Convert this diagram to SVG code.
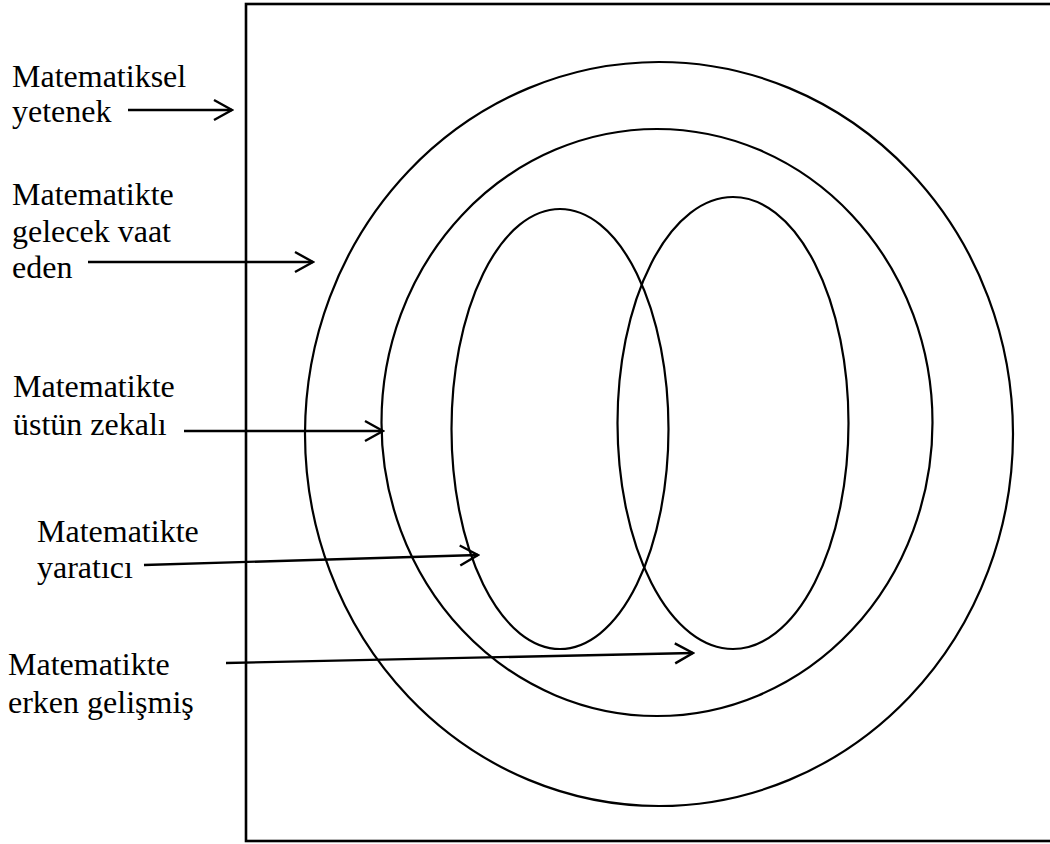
<svg xmlns="http://www.w3.org/2000/svg" width="1050" height="844" viewBox="0 0 1050 844">
<style>
.shape{fill:none;stroke:#000;stroke-width:2.2}
.frame{fill:none;stroke:#000;stroke-width:2.6}
.conn{fill:none;stroke:#000;stroke-width:2.4}
text{font-family:"Liberation Serif","Times New Roman",serif;font-size:32px;fill:#000}
</style>
<defs>
<marker id="arr" markerUnits="userSpaceOnUse" viewBox="0 0 22 24" refX="20" refY="12" markerWidth="22" markerHeight="24" orient="auto">
<path d="M2,2 L20,12 L2,22" fill="none" stroke="#000" stroke-width="2.4"/>
</marker>
</defs>
<rect width="1050" height="844" fill="#fff"/>
<g id="frame"><rect class="frame" x="246" y="4" width="840" height="837"/></g>
<g id="outer-circle"><ellipse class="shape" cx="659" cy="434" rx="354" ry="372"/></g>
<g id="middle-circle"><ellipse class="shape" cx="657" cy="422.5" rx="275.5" ry="293.5"/></g>
<g id="left-ellipse"><ellipse class="shape" cx="560" cy="429" rx="108.5" ry="220"/></g>
<g id="right-ellipse"><ellipse class="shape" cx="733" cy="423" rx="115.5" ry="226"/></g>
<g id="labels">
<text x="12" y="87">Matematiksel</text>
<text x="12" y="122">yetenek</text>
<text x="12" y="205">Matematikte</text>
<text x="12" y="242">gelecek vaat</text>
<text x="12" y="278">eden</text>
<text x="13" y="397">Matematikte</text>
<text x="13" y="435">üstün zekalı</text>
<text x="37" y="542">Matematikte</text>
<text x="37" y="578">yaratıcı</text>
<text x="8" y="675">Matematikte</text>
<text x="8" y="713">erken gelişmiş</text>
</g>
<g id="connectors">
<line class="conn" x1="128" y1="110" x2="232" y2="110" marker-end="url(#arr)"/>
<line class="conn" x1="88" y1="262" x2="313" y2="262" marker-end="url(#arr)"/>
<line class="conn" x1="184" y1="431" x2="383" y2="431" marker-end="url(#arr)"/>
<line class="conn" x1="144" y1="565" x2="478" y2="555" marker-end="url(#arr)"/>
<line class="conn" x1="226" y1="663" x2="693" y2="653" marker-end="url(#arr)"/>
</g>
</svg>
